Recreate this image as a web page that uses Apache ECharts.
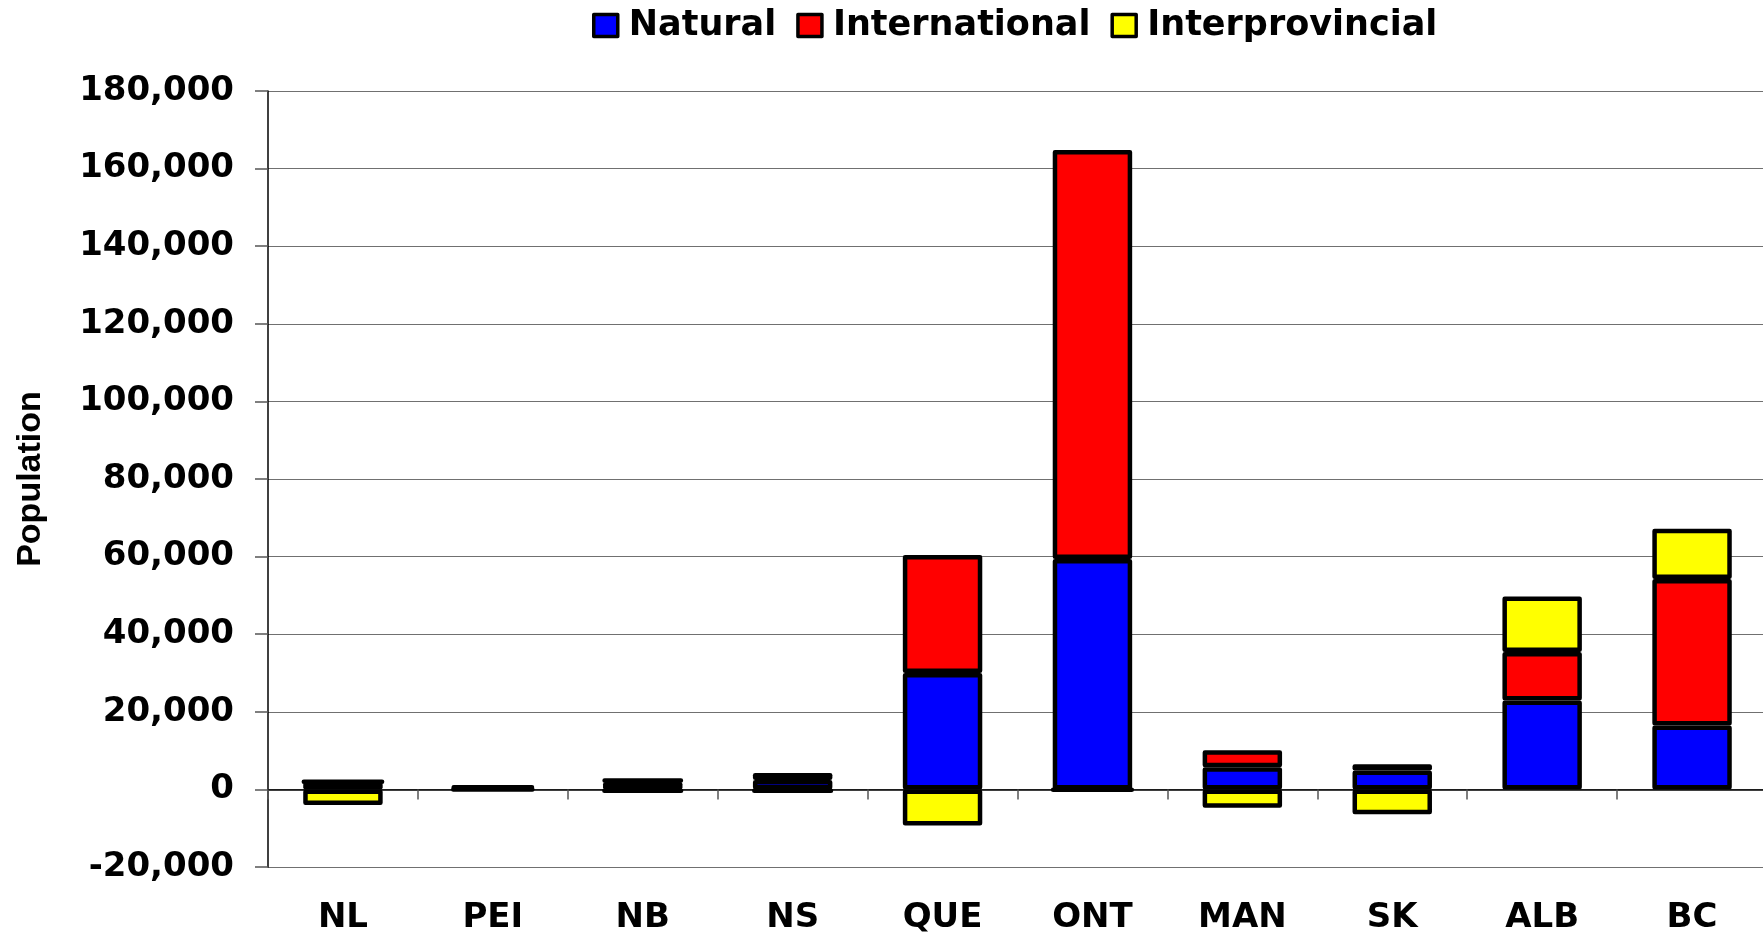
<!DOCTYPE html>
<html>
<head>
<meta charset="utf-8">
<title>Population growth by province</title>
<script src="https://cdn.jsdelivr.net/npm/echarts@6/dist/echarts.min.js"></script>
<style>
	html, body { margin: 0; padding: 0; background: #fff; }
	#chart { width: 1763px; height: 932px; }
</style>
</head>
<body>
<div id="chart"></div>
<script>
	// values
	const categories = ['NL', 'PEI', 'NB', 'NS', 'QUE', 'ONT', 'MAN', 'SK', 'ALB', 'BC'];
	const natural = [1800, 400, 1900, 2400, 30000, 59400, 5700, 4900, 22900, 16500];
	const international = [300, 300, 800, 1800, 30400, 105400, 4400, 1600, 12500, 37700];
	const interprovincial = [-4000, -100, -700, -700, -9300, -200, -4700, -6400, 14300, 13000];
	const yMin = -20000;
	const yMax = 180000;
	const yStep = 20000;

	const labelFont = 'DejaVu Sans';

	let chart = echarts.init(document.getElementById('chart'), null, { renderer: 'canvas' });

	function barSeries(name, data, color) {
		return {
			name: name,
			type: 'bar',
			stack: 'total',
			barWidth: '53%',
			data: data,
			itemStyle: {
				color: color,
				borderColor: '#000',
				borderWidth: 4.5,
				borderJoin: 'round'
			}
		}
	}

	chart.setOption({
		animation: false,
		backgroundColor: '#fff',
		legend: {
			left: 587,
			top: 3,
			icon: 'rect',
			itemWidth: 24,
			itemHeight: 22,
			itemGap: 20,
			itemStyle: { borderColor: '#000', borderWidth: 3.5 },
			textStyle: {
				fontFamily: labelFont,
				fontWeight: 'bold',
				fontSize: 35,
				color: '#000',
				padding: [0, 0, 0, 6]
			}
		},
		grid: {
			left: 268,
			top: 91,
			bottom: 65,
			width: 1499,
			outerBoundsMode: 'none'
		},
		xAxis: [{
			type: 'category',
			data: categories,
			position: 'bottom',
			axisLine: { onZero: true, lineStyle: { color: '#000', width: 1.5 } },
			axisTick: { show: true, length: 10, lineStyle: { color: '#555', width: 1.5 } },
			axisLabel: { show: false },
			splitLine: { show: false }
		}, {
			type: 'category',
			data: categories,
			position: 'bottom',
			axisLine: { show: false, onZero: false },
			axisTick: { show: false },
			axisLabel: {
				margin: 34,
				fontFamily: labelFont,
				fontWeight: 'bold',
				fontSize: 34,
				color: '#000'
			}
		}],
		yAxis: {
			type: 'value',
			min: yMin,
			max: yMax,
			interval: yStep,
			name: 'Population',
			nameLocation: 'middle',
			nameRotate: 90,
			nameGap: 220,
			nameTextStyle: {
				fontFamily: 'Liberation Sans',
				fontWeight: 'bold',
				fontSize: 34,
				color: '#000'
			},
			axisLine: { show: true, lineStyle: { color: '#000', width: 1.5 } },
			axisTick: { show: true, length: 13, lineStyle: { color: '#555', width: 1.5 } },
			splitLine: { lineStyle: { color: '#707070', width: 1.2 } },
			axisLabel: {
				margin: 34,
				fontFamily: labelFont,
				fontWeight: 'bold',
				fontSize: 34,
				color: '#000',
				formatter: function (v) { return v.toLocaleString('en-US'); }
			}
		},
		series: [
			barSeries('Natural', natural, '#0000ff'),
			barSeries('International', international, '#ff0000'),
			barSeries('Interprovincial', interprovincial, '#ffff00')
		]
	});
</script>
</body>
</html>
